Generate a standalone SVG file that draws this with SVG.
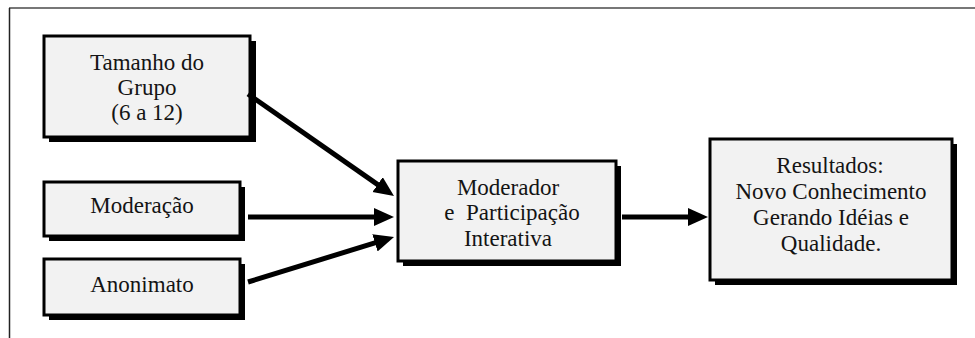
<svg xmlns="http://www.w3.org/2000/svg" width="975" height="338" viewBox="0 0 975 338">
<style>
.shadow{fill:#000}
.box{fill:#f2f2f2;stroke:#000;stroke-width:3}
.t{font-family:'Liberation Serif','Tinos','Times New Roman','DejaVu Serif',serif;font-size:23px;fill:#141414;text-anchor:middle}
.conn{stroke:#000;stroke-width:5;fill:none;marker-end:url(#ah)}
</style>
<defs>
<marker id="ah" markerUnits="userSpaceOnUse" markerWidth="22" markerHeight="20" refX="5" refY="9" orient="auto">
<path d="M0,0 L20,9 L0,18 z" fill="#000"/>
</marker>
</defs>
<rect x="0" y="0" width="975" height="338" fill="#fff"/>
<g id="frame">
<line x1="9" y1="8" x2="975" y2="8" stroke="#777" stroke-width="2"/>
<line x1="9.5" y1="8" x2="9.5" y2="338" stroke="#222" stroke-width="1.5"/>
</g>
<g id="node-tamanho">
<rect class="shadow" x="49" y="41" width="207" height="101"/>
<rect class="box" x="44" y="36" width="206" height="101"/>
<text class="t" x="147" y="70">Tamanho do</text>
<text class="t" x="147" y="95">Grupo</text>
<text class="t" x="147" y="120">(6 a 12)</text>
</g>
<g id="node-moderacao">
<rect class="shadow" x="49" y="187" width="196" height="54"/>
<rect class="box" x="44" y="182" width="196" height="54"/>
<text class="t" x="142" y="213">Moderação</text>
</g>
<g id="node-anonimato">
<rect class="shadow" x="49" y="264" width="196" height="56"/>
<rect class="box" x="44" y="259" width="196" height="56"/>
<text class="t" x="142" y="292">Anonimato</text>
</g>
<g id="node-moderador">
<rect class="shadow" x="403" y="166" width="218" height="100"/>
<rect class="box" x="398" y="161" width="218" height="100"/>
<text class="t" x="508" y="195">Moderador</text>
<text class="t" x="512" y="220" xml:space="preserve">e  Participação</text>
<text class="t" x="508" y="246">Interativa</text>
</g>
<g id="node-resultados">
<rect class="shadow" x="715" y="144" width="242" height="141"/>
<rect class="box" x="710" y="139" width="242" height="141"/>
<text class="t" x="830" y="173">Resultados:</text>
<text class="t" x="831" y="199">Novo Conhecimento</text>
<text class="t" x="831" y="225">Gerando Idéias e</text>
<text class="t" x="831" y="251">Qualidade.</text>
</g>
<g id="connectors">
<line class="conn" x1="248" y1="94" x2="381.7" y2="187.4"/>
<line class="conn" x1="248" y1="217" x2="379" y2="217"/>
<line class="conn" x1="248" y1="282" x2="379.7" y2="241.4"/>
<line class="conn" x1="622" y1="217" x2="693" y2="217"/>
</g>
</svg>
